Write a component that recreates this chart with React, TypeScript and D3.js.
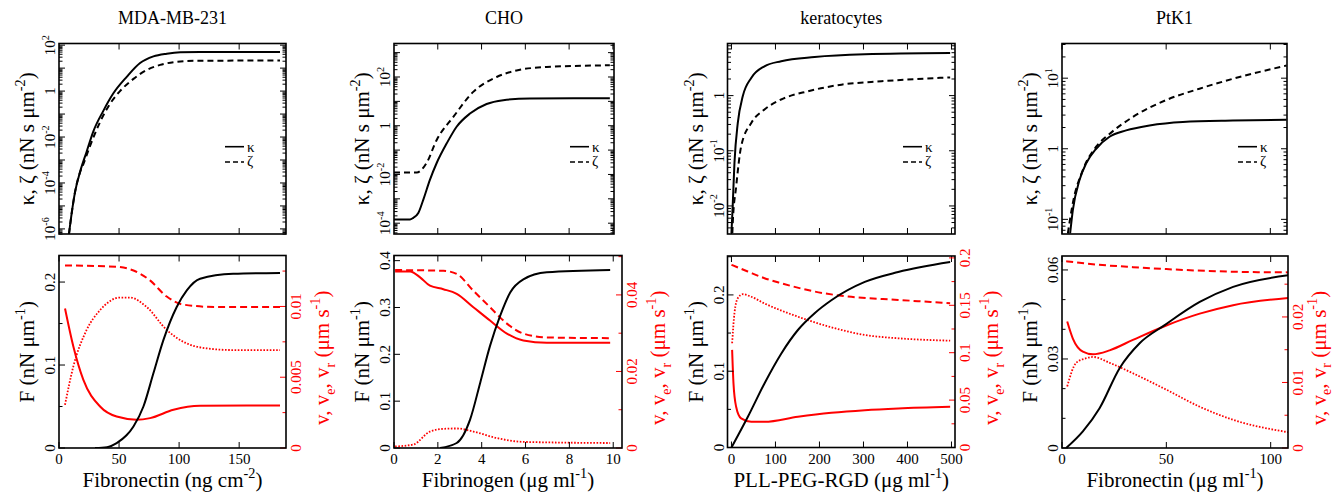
import React from "react";
import * as d3 from "d3";

type P = [number, number];
type Seg = { t: string; sup?: boolean; sub?: boolean };

const FONT = "Liberation Serif, Times New Roman, serif";
const RED = "#ff0000";

// ---------- data ----------
const titles = ["MDA-MB-231", "CHO", "keratocytes", "PtK1"];

// top row: kappa (solid) and zeta (dashed), nN s um^-2
const mdaKappa: P[] = [
  [8.3, 6e-7], [10.6, 5e-6], [13.3, 3.9e-5], [17.5, 3e-4], [23, 2.3e-3], [28.6, 0.0178],
  [36.9, 0.138], [45, 0.76], [56.4, 4.17], [67.5, 16.6], [78.6, 32.4], [89.7, 42.7],
  [101, 49], [117.5, 50], [184, 50],
];
const mdaZeta: P[] = [
  [8.3, 6e-7], [10.6, 5e-6], [13.3, 3.9e-5], [17.5, 2.9e-4], [19.5, 5.2e-4], [25.8, 4e-3],
  [34.2, 0.045], [42.5, 0.28], [50.8, 1.0], [62, 3.4], [73.1, 8.3], [84.2, 13.8],
  [95.3, 18.2], [112, 20.9], [184, 21.4],
];
const choKappa: P[] = [
  [0, 1.41e-4], [0.73, 1.41e-4], [0.88, 1.66e-4], [1.11, 2.6e-4], [1.34, 9.3e-4], [1.64, 6e-3],
  [1.95, 0.0295], [2.41, 0.19], [2.86, 0.91], [3.47, 3.16], [4.23, 7.8], [4.99, 11.2],
  [6.21, 13.2], [9.86, 13.5],
];
const choZeta: P[] = [
  [0, 0.012], [1.04, 0.012], [1.49, 0.03], [1.95, 0.26], [2.71, 2.3], [3.62, 24.5],
  [4.69, 100], [5.6, 186], [6.97, 257], [9.86, 302],
];
const kerKappa: P[] = [
  [0, 3.2e-3], [3, 0.011], [6.8, 0.06], [14.4, 0.32], [25.8, 0.98], [44.9, 2.09],
  [75, 3.4], [113, 4.2], [189, 5.0], [303, 5.6], [497, 5.9],
];
const kerZeta: P[] = [
  [2, 3.2e-3], [3, 5e-3], [10.6, 0.022], [22, 0.12], [45, 0.32], [75, 0.56], [113, 0.85],
  [174, 1.2], [250, 1.58], [341, 1.82], [497, 2.14],
];
const ptkKappa: P[] = [
  [3.9, 0.063], [5.2, 0.135], [8.4, 0.36], [11.6, 0.62], [16.4, 1.0], [22.8, 1.48],
  [30.8, 1.82], [42, 2.14], [58, 2.4], [82, 2.51], [107.8, 2.57],
];
const ptkZeta: P[] = [
  [2.8, 0.063], [5.2, 0.17], [10, 0.5], [16.4, 1.07], [22.8, 1.62], [34, 2.82],
  [50, 4.9], [66, 7.1], [82, 9.8], [107.8, 15.1],
];

// bottom row: F (black, nN um^-1) and v, ve, vr (red, um s^-1)
const mdaF: P[] = [
  [30, 0], [40, 0.001], [48, 0.006], [56, 0.015], [62, 0.026], [70.3, 0.05], [78.6, 0.09],
  [86.9, 0.13], [98, 0.17], [106.4, 0.19], [117.5, 0.204], [145, 0.21], [184, 0.211],
];
const mdaV: P[] = [
  [5, 0.00986], [11.9, 0.00719], [20.3, 0.00481], [34.2, 0.00293], [48, 0.00222],
  [64.7, 0.002], [75.8, 0.00211], [95.3, 0.0027], [117.5, 0.00298], [184, 0.003],
];
const mdaVe: P[] = [
  [5, 0.0129], [48, 0.0128], [62, 0.01254], [75.8, 0.01184], [89.7, 0.0107],
  [103.6, 0.01013], [131, 0.00996], [184, 0.00996],
];
const mdaVr: P[] = [
  [5, 0.00305], [11.9, 0.00575], [23, 0.00834], [34.2, 0.00974], [50.8, 0.01063],
  [59, 0.01063], [72.8, 0.00998], [89.7, 0.00834], [103.6, 0.0075], [123, 0.00704],
  [145, 0.00692], [184, 0.00692],
];
const choF: P[] = [
  [2.1, 0], [2.86, 0.0107], [3.47, 0.0606], [3.93, 0.139], [4.38, 0.218], [4.84, 0.282],
  [5.3, 0.332], [5.9, 0.36], [6.97, 0.375], [9.86, 0.38],
];
const choV: P[] = [
  [0.05, 0.0461], [0.73, 0.0461], [1.19, 0.0446], [1.64, 0.0424], [2.25, 0.0415],
  [2.86, 0.0403], [3.62, 0.0368], [4.38, 0.0333], [5.15, 0.0299], [5.9, 0.0281],
  [6.97, 0.0275], [9.86, 0.0275],
];
const choVe: P[] = [
  [0.05, 0.0465], [2.25, 0.0463], [2.86, 0.0455], [3.62, 0.0411], [4.38, 0.0368],
  [5.15, 0.0325], [5.9, 0.0299], [6.97, 0.0289], [9.86, 0.0287],
];
const choVr: P[] = [
  [0.05, 0.0004], [0.88, 0.0009], [1.64, 0.0043], [2.25, 0.005], [2.86, 0.0051],
  [3.62, 0.0043], [4.69, 0.0026], [5.9, 0.0016], [9.86, 0.0013],
];
const kerF: P[] = [
  [0, 0], [37, 0.04], [75, 0.084], [113, 0.123], [151, 0.154], [189, 0.176], [227, 0.193],
  [303, 0.217], [379, 0.23], [497, 0.243],
];
const kerV: P[] = [
  [1.5, 0.103], [4.6, 0.0677], [10.6, 0.043], [22, 0.0307], [45, 0.0271], [75, 0.0271],
  [151, 0.0324], [227, 0.0366], [303, 0.0394], [379, 0.0412], [497, 0.0429],
];
const kerVe: P[] = [
  [0, 0.1927], [37, 0.1856], [75, 0.1786], [113, 0.1733], [189, 0.1645], [265, 0.1592],
  [379, 0.1557], [497, 0.1522],
];
const kerVr: P[] = [
  [1.5, 0.11], [6.8, 0.1416], [14.4, 0.1575], [25.8, 0.1617], [45, 0.159], [75, 0.152],
  [151, 0.138], [227, 0.1268], [303, 0.1187], [379, 0.1152], [497, 0.1127],
];
const ptkF: P[] = [
  [2, 0], [10, 0.0056], [18, 0.0134], [27.6, 0.0269], [37.2, 0.0353], [49.2, 0.0414],
  [66, 0.0492], [82, 0.0543], [108.5, 0.0582],
];
const ptkV: P[] = [
  [2.5, 0.0193], [5.2, 0.0167], [10, 0.0147], [14.8, 0.0143], [22.8, 0.0149], [34, 0.0165],
  [50, 0.0187], [66, 0.0205], [82, 0.0218], [108.5, 0.0229],
];
const ptkVe: P[] = [
  [2, 0.0285], [16.4, 0.028], [34, 0.0276], [50, 0.0273], [82, 0.0269], [108.5, 0.0268],
];
const ptkVr: P[] = [
  [2.5, 0.0094], [6.8, 0.013], [11.6, 0.0137], [14.8, 0.0139], [22.8, 0.013], [34, 0.0114],
  [50, 0.0089], [66, 0.0063], [82, 0.0043], [108.5, 0.0024],
];

const kappaSeries = [mdaKappa, choKappa, kerKappa, ptkKappa];
const zetaSeries = [mdaZeta, choZeta, kerZeta, ptkZeta];
const fSeries = [mdaF, choF, kerF, ptkF];
const vSeries = [mdaV, choV, kerV, ptkV];
const veSeries = [mdaVe, choVe, kerVe, ptkVe];
const vrSeries = [mdaVr, choVr, kerVr, ptkVr];

// axes
const topXDomains: P[] = [[0, 189], [0, 10.05], [-9, 508], [0, 108]];
const topYDomains: P[] = [[6e-7, 118], [3.6e-5, 2370], [3.1e-3, 8.8], [0.062, 31]];
const topXTicks = [[50, 100, 150], [2, 4, 6, 8, 10], [0, 100, 200, 300, 400, 500], [0, 50, 100]];
const labelExps = [[2, 0, -2, -4, -6], [2, 0, -2, -4], [0, -1, -2], [1, 0, -1]];

const botXDomains: P[] = [[0, 189], [0, 10.4], [-9, 508], [0, 108.3]];
const botXTicks = [[0, 50, 100, 150], [0, 2, 4, 6, 8, 10], [0, 100, 200, 300, 400, 500], [0, 50, 100]];
const fDomains: P[] = [[0, 0.232], [0, 0.411], [0, 0.251], [0, 0.0647]];
const fTicks = [[0, 0.1, 0.2], [0, 0.1, 0.2, 0.3, 0.4], [0, 0.1, 0.2], [0, 0.03, 0.06]];
const fMinorStep = [0.05, 0.1, 0.05, 0.01];
const vDomains: P[] = [[0, 0.0136], [0, 0.0503], [0, 0.202], [0, 0.0293]];
const vTicks = [[0, 0.005, 0.01], [0, 0.02, 0.04], [0, 0.05, 0.1, 0.15, 0.2], [0, 0.01, 0.02]];
const vMinorStep = [0.0025, 0.01, 0.025, 0.005];

const xTitles: Seg[][] = [
  [{ t: "Fibronectin (ng cm" }, { t: "-2", sup: true }, { t: ")" }],
  [{ t: "Fibrinogen (μg ml" }, { t: "-1", sup: true }, { t: ")" }],
  [{ t: "PLL-PEG-RGD (μg ml" }, { t: "-1", sup: true }, { t: ")" }],
  [{ t: "Fibronectin (μg ml" }, { t: "-1", sup: true }, { t: ")" }],
];
const kzTitle: Seg[] = [{ t: "κ, ζ (nN s μm" }, { t: "-2", sup: true }, { t: ")" }];
const fTitle: Seg[] = [{ t: "F (nN μm" }, { t: "-1", sup: true }, { t: ")" }];
const vTitle: Seg[] = [
  { t: "v, v" }, { t: "e", sub: true }, { t: ", v" }, { t: "r", sub: true },
  { t: " (μm s" }, { t: "-1", sup: true }, { t: ")" },
];

// ---------- layout ----------
const layout = [
  { x0: 59, topX1: 286, botX1: 286, botY0: 255.5, botY1: 448, legendX: 225, vTitleDx: 43 },
  { x0: 394, topX1: 614, botX1: 622, botY0: 255.5, botY1: 448, legendX: 570, vTitleDx: 43 },
  { x0: 727.5, topX1: 955, botX1: 955, botY0: 256, botY1: 447.5, legendX: 903, vTitleDx: 43 },
  { x0: 1062, topX1: 1287, botX1: 1288, botY0: 256, botY1: 448, legendX: 1238, vTitleDx: 37.5 },
];
const TOP_Y0 = 43.5;
const TOP_Y1 = 234;
const TICK = 6;
const MINOR = 3.5;
const TICK_FS = 15;
const TITLE_FS = 21;

function rich(segs: Seg[], size: number) {
  let cur = 0;
  return segs.map((s, k) => {
    const off = s.sup ? -0.42 * size : s.sub ? 0.28 * size : 0;
    const dy = off - cur;
    cur = off;
    return (
      <tspan key={k} dy={dy} fontSize={s.sup || s.sub ? size * 0.68 : size}>
        {s.t}
      </tspan>
    );
  });
}

function stepTicks(dom: P, step: number) {
  return d3.range(dom[0], dom[1] + step * 1e-6, step);
}

function TopPanel({ i }: { i: number }) {
  const L = layout[i];
  const x0 = L.x0, x1 = L.topX1, y0 = TOP_Y0, y1 = TOP_Y1;
  const xs = d3.scaleLinear().domain(topXDomains[i]).range([x0, x1]);
  const ys = d3.scaleLog().domain(topYDomains[i]).range([y1, y0]);
  const line = d3.line<P>().x((d) => xs(d[0])).y((d) => ys(d[1])).curve(d3.curveMonotoneX);
  const [lo, hi] = topYDomains[i];
  const majors: number[] = [];
  const minors: number[] = [];
  for (let e = Math.floor(Math.log10(lo)); e <= Math.ceil(Math.log10(hi)); e++) {
    const m = Math.pow(10, e);
    if (m >= lo && m <= hi) majors.push(m);
    for (let k = 2; k < 10; k++) {
      const v = k * m;
      if (v >= lo && v <= hi) minors.push(v);
    }
  }
  const id = `clipTop${i}`;
  const lx = L.legendX;
  return (
    <g>
      <defs>
        <clipPath id={id}>
          <rect x={x0} y={y0} width={x1 - x0} height={y1 - y0} />
        </clipPath>
      </defs>
      <text x={(x0 + x1) / 2} y={24} textAnchor="middle" fontSize={18}>
        {titles[i]}
      </text>
      <g clipPath={`url(#${id})`} fill="none" stroke="#000" strokeWidth={2}>
        <path d={line(kappaSeries[i]) || ""} />
        <path d={line(zetaSeries[i]) || ""} strokeDasharray="6,4" />
      </g>
      <g stroke="#000" strokeWidth={1}>
        {topXTicks[i].map((t) => (
          <g key={t}>
            <line x1={xs(t)} x2={xs(t)} y1={y1} y2={y1 - TICK} />
            <line x1={xs(t)} x2={xs(t)} y1={y0} y2={y0 + TICK} />
          </g>
        ))}
        {majors.map((t) => (
          <g key={t}>
            <line x1={x0} x2={x0 + TICK} y1={ys(t)} y2={ys(t)} />
            <line x1={x1} x2={x1 - TICK} y1={ys(t)} y2={ys(t)} />
          </g>
        ))}
        {minors.map((t) => (
          <g key={t}>
            <line x1={x0} x2={x0 + MINOR} y1={ys(t)} y2={ys(t)} />
            <line x1={x1} x2={x1 - MINOR} y1={ys(t)} y2={ys(t)} />
          </g>
        ))}
      </g>
      {labelExps[i].map((e) => (
        <text
          key={e}
          transform={`translate(${x0 - 4},${ys(Math.pow(10, e))}) rotate(-90)`}
          textAnchor="middle"
          fontSize={TICK_FS}
        >
          {e === 0 ? "1" : rich([{ t: "10" }, { t: String(e), sup: true }], TICK_FS)}
        </text>
      ))}
      <rect x={x0} y={y0} width={x1 - x0} height={y1 - y0} fill="none" stroke="#000" strokeWidth={1.6} />
      <text
        transform={`translate(${x0 - 25},${(y0 + y1) / 2}) rotate(-90)`}
        textAnchor="middle"
        fontSize={TITLE_FS}
      >
        {rich(kzTitle, TITLE_FS)}
      </text>
      <g stroke="#000" strokeWidth={1.6}>
        <line x1={lx} x2={lx + 19} y1={146.7} y2={146.7} />
        <line x1={lx} x2={lx + 19} y1={162} y2={162} strokeDasharray="5,3" />
      </g>
      <text x={lx + 22} y={151.5} fontSize={15}>κ</text>
      <text x={lx + 22} y={166} fontSize={15}>ζ</text>
    </g>
  );
}

function BottomPanel({ i }: { i: number }) {
  const L = layout[i];
  const x0 = L.x0, x1 = L.botX1, y0 = L.botY0, y1 = L.botY1;
  const xs = d3.scaleLinear().domain(botXDomains[i]).range([x0, x1]);
  const fs = d3.scaleLinear().domain(fDomains[i]).range([y1, y0]);
  const vs = d3.scaleLinear().domain(vDomains[i]).range([y1, y0]);
  const fLine = d3.line<P>().x((d) => xs(d[0])).y((d) => fs(d[1])).curve(d3.curveMonotoneX);
  const vLine = d3.line<P>().x((d) => xs(d[0])).y((d) => vs(d[1])).curve(d3.curveMonotoneX);
  const id = `clipBot${i}`;
  const fMinor = stepTicks(fDomains[i], fMinorStep[i]);
  const vMinor = stepTicks(vDomains[i], vMinorStep[i]);
  const isMajor = (list: number[], t: number) => list.some((m) => Math.abs(m - t) < 1e-9);
  return (
    <g>
      <defs>
        <clipPath id={id}>
          <rect x={x0} y={y0} width={x1 - x0} height={y1 - y0} />
        </clipPath>
      </defs>
      <g clipPath={`url(#${id})`} fill="none" strokeWidth={2}>
        <path d={vLine(veSeries[i]) || ""} stroke={RED} strokeDasharray="7,4" />
        <path d={vLine(vrSeries[i]) || ""} stroke={RED} strokeWidth={1.8} strokeDasharray="1.6,1.6" />
        <path d={vLine(vSeries[i]) || ""} stroke={RED} />
        <path d={fLine(fSeries[i]) || ""} stroke="#000" />
      </g>
      <g stroke="#000" strokeWidth={1}>
        {botXTicks[i].map((t) => (
          <g key={t}>
            <line x1={xs(t)} x2={xs(t)} y1={y1} y2={y1 - TICK} />
            <line x1={xs(t)} x2={xs(t)} y1={y0} y2={y0 + TICK} />
          </g>
        ))}
        {fMinor.map((t) => (
          <line key={t} x1={x0} x2={x0 + (isMajor(fTicks[i], t) ? TICK : MINOR)} y1={fs(t)} y2={fs(t)} />
        ))}
      </g>
      <g stroke={RED} strokeWidth={1}>
        {vMinor.map((t) => (
          <line key={t} x1={x1} x2={x1 - (isMajor(vTicks[i], t) ? TICK : MINOR)} y1={vs(t)} y2={vs(t)} />
        ))}
      </g>
      {botXTicks[i].map((t) => (
        <text key={t} x={xs(t)} y={y1 + 16} textAnchor="middle" fontSize={TICK_FS}>
          {String(t)}
        </text>
      ))}
      {fTicks[i].map((t) => (
        <text
          key={t}
          transform={`translate(${x0 - 4},${fs(t)}) rotate(-90)`}
          textAnchor="middle"
          fontSize={TICK_FS}
        >
          {String(t)}
        </text>
      ))}
      {vTicks[i].map((t) => (
        <text
          key={t}
          transform={`translate(${x1 + 15},${vs(t)}) rotate(-90)`}
          textAnchor="middle"
          fontSize={TICK_FS}
          fill={RED}
        >
          {String(t)}
        </text>
      ))}
      <rect x={x0} y={y0} width={x1 - x0} height={y1 - y0} fill="none" stroke="#000" strokeWidth={1.6} />
      <text
        transform={`translate(${x0 - 25},${(y0 + y1) / 2}) rotate(-90)`}
        textAnchor="middle"
        fontSize={TITLE_FS}
      >
        {rich(fTitle, TITLE_FS)}
      </text>
      <text
        transform={`translate(${x1 + L.vTitleDx},${(y0 + y1) / 2 + 6}) rotate(-90)`}
        textAnchor="middle"
        fontSize={TITLE_FS}
        fill={RED}
      >
        {rich(vTitle, TITLE_FS)}
      </text>
      <text x={(x0 + x1) / 2} y={487} textAnchor="middle" fontSize={TITLE_FS}>
        {rich(xTitles[i], TITLE_FS)}
      </text>
    </g>
  );
}

export default function App() {
  return (
    <svg
      width={1336}
      height={496}
      viewBox="0 0 1336 496"
      style={{ position: "absolute", left: 0, top: 0, background: "#fff", fontFamily: FONT }}
    >
      {titles.map((_, i) => (
        <g key={i}>
          <TopPanel i={i} />
          <BottomPanel i={i} />
        </g>
      ))}
    </svg>
  );
}
